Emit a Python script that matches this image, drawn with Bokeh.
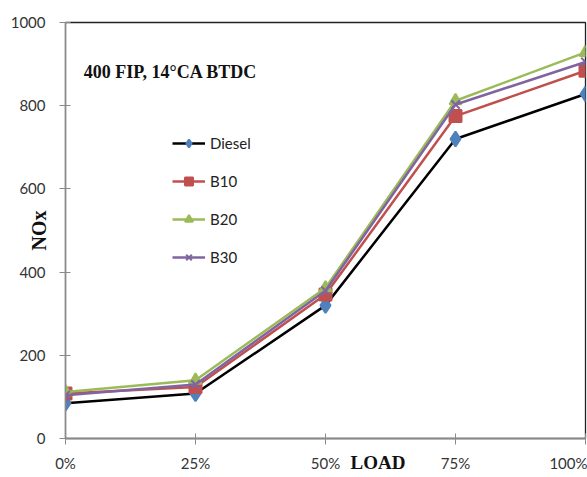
from bokeh.plotting import figure
from bokeh.models import Range1d, FixedTicker, Legend, LegendItem, Label, Title
from bokeh.embed import file_html
from bokeh.resources import INLINE

loads = [0, 25, 50, 75, 100]
load_labels = ["0%", "25%", "50%", "75%", "100%"]
diesel = [85, 108, 320, 720, 828]
b10 = [108, 124, 346, 775, 884]
b20 = [112, 140, 362, 812, 928]
b30 = [104, 130, 355, 803, 905]

p = figure(width=587, height=477, output_backend="svg", toolbar_location=None,
           x_range=Range1d(0, 100), y_range=Range1d(0, 1000))
p.min_border_left = 65
p.min_border_right = 2
p.min_border_top = 22
p.min_border_bottom = 39
p.xgrid.grid_line_color = None
p.ygrid.grid_line_color = None
p.outline_line_color = "#222222"
p.outline_line_width = 1.3
p.background_fill_color = "white"
p.border_fill_color = "white"

p.xaxis.ticker = FixedTicker(ticks=loads)
p.xaxis.major_label_overrides = {v: l for v, l in zip(loads, load_labels)}
p.yaxis.ticker = FixedTicker(ticks=[0, 200, 400, 600, 800, 1000])
for ax in (p.xaxis[0], p.yaxis[0]):
    ax.axis_line_color = "#8a8a8a"
    ax.axis_line_width = 1.3
    ax.major_tick_line_color = "#8a8a8a"
    ax.major_tick_in = 5
    ax.major_tick_out = 6
    ax.minor_tick_line_color = None
    ax.major_label_text_font = "Lato"
    ax.major_label_text_font_size = "15px"
    ax.major_label_text_color = "#333333"
p.xaxis.major_label_standoff = 9
p.yaxis.major_label_standoff = 14

p.yaxis.axis_label = "NOx"
p.yaxis.axis_label_text_font = "Liberation Serif"
p.yaxis.axis_label_text_font_style = "bold"
p.yaxis.axis_label_text_font_size = "20px"
p.yaxis.axis_label_text_color = "#111111"
p.yaxis.axis_label_standoff = -42

series = [
    ("Diesel", diesel, "black", "#4f81bd", "diamond", 15),
    ("B10", b10, "#c0504d", "#c0504d", "square", 12),
    ("B20", b20, "#9bbb59", "#9bbb59", "triangle", 12),
    ("B30", b30, "#8064a2", "#8064a2", "x", 12),
]
items = []
for name, ys, lc, mc, mk, sz in series:
    r1 = p.line(loads, ys, line_color=lc, line_width=2.5)
    r2 = p.scatter(loads, ys, marker=mk, size=sz, fill_color=mc, line_color=mc, line_width=2)
    items.append(LegendItem(label=name, renderers=[r1, r2]))

leg = Legend(items=items, location=(107, 171), glyph_width=33, glyph_height=20,
             label_height=20, spacing=18, label_standoff=5, padding=0, margin=0,
             border_line_color=None, background_fill_alpha=0,
             label_text_font="Lato", label_text_font_size="15px", label_text_color="#222222")
p.add_layout(leg)

p.add_layout(Label(x=3.5, y=880, text="400 FIP, 14°CA BTDC", text_font="Liberation Serif",
                   text_font_style="bold", text_font_size="18px", text_baseline="middle",
                   text_color="#111111"))

p.add_layout(Title(text="LOAD", align="left", offset=285, vertical_align="top", standoff=-46,
                   text_font="Liberation Serif", text_font_style="bold", text_font_size="19px",
                   text_color="#111111"), "below")

open("out.html", "w").write(file_html(p, INLINE))
